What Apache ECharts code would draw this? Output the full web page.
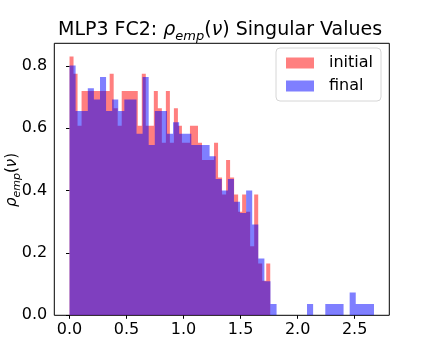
<!DOCTYPE html>
<html lang="en">
<head>
  <meta charset="UTF-8" />
  <title>MLP3 FC2 singular values</title>
  <script src="https://cdn.jsdelivr.net/npm/echarts@6.0.0/dist/echarts.min.js"></script>
  <style>
    html, body { margin: 0; padding: 0; background: #fff; }
    #chart { width: 432px; height: 360px; }
  </style>
</head>
<body>
  <div id="chart"></div>
  <script>
    // histogram bins (density)
    const initialStart = 0.0;
    const initialBinWidth = 0.0352;
    const initialHeights = [
      0.830, 0.774, 0.608, 0.719, 0.719, 0.719, 0.719, 0.719, 0.719, 0.719,
      0.774, 0.664, 0.608, 0.719, 0.719, 0.719, 0.719, 0.608, 0.774, 0.608,
      0.608, 0.719, 0.664, 0.553, 0.719, 0.553, 0.664, 0.608, 0.553, 0.553,
      0.608, 0.608, 0.553, 0.498, 0.498, 0.498, 0.553, 0.442, 0.387, 0.498,
      0.442, 0.387, 0.332, 0.387, 0.332, 0.221, 0.387, 0.166, 0.111, 0.166
    ];

    const finalStart = 0.0;
    const finalBinWidth = 0.0534;
    const finalHeights = [
      0.801, 0.655, 0.655, 0.728, 0.692, 0.764, 0.655, 0.692, 0.655, 0.692,
      0.692, 0.582, 0.764, 0.546, 0.655, 0.655, 0.582, 0.619, 0.582, 0.582,
      0.546, 0.546, 0.546, 0.510, 0.437, 0.400, 0.437, 0.364, 0.328, 0.400,
      0.291, 0.182, 0.109, 0.036, 0, 0, 0, 0, 0, 0.036,
      0, 0, 0.036, 0.036, 0.036, 0, 0.073, 0.036, 0.036, 0.036
    ];

    const seriesNames = ['initial', 'final'];
    const xTickValues = [0, 0.5, 1.0, 1.5, 2.0, 2.5];
    const yTickValues = [0, 0.2, 0.4, 0.6, 0.8];

    // step outline of a histogram: one point per bin edge
    function stepPoints(start, width, heights) {
      var pts = [];
      for (var i = 0; i < heights.length; i++) {
        pts.push([start + i * width, heights[i]]);
      }
      pts.push([start + heights.length * width, heights[heights.length - 1]]);
      return pts;
    }

    var font = 'DejaVu Sans';
    var mathRich = function (size) {
      return {
        n: { fontFamily: font, fontSize: size, fontWeight: 'normal', lineHeight: size + 6, verticalAlign: 'middle', fill: '#000', color: '#000' },
        i: { fontFamily: font, fontSize: size, fontWeight: 'normal', fontStyle: 'italic', lineHeight: size + 6, verticalAlign: 'middle', fill: '#000', color: '#000' },
        s: { fontFamily: font, fontSize: Math.round(size * 0.7), fontWeight: 'normal', fontStyle: 'italic', lineHeight: Math.round(size * 0.7), verticalAlign: 'bottom', fill: '#000', color: '#000' }
      };
    };

    function histSeries(name, start, width, heights, color) {
      return {
        name: name,
        type: 'line',
        step: 'end',
        data: stepPoints(start, width, heights),
        showSymbol: false,
        symbol: 'none',
        lineStyle: { width: 0 },
        itemStyle: { color: color },
        areaStyle: { color: color, opacity: 1 },
        animation: false,
        silent: true
      };
    }

    var chart = echarts.init(document.getElementById('chart'), null, { renderer: 'canvas' });
    chart.setOption({
      backgroundColor: '#fff',
      animation: false,
      title: {
        text: '{n|MLP3 FC2: }{i|ρ}{s|emp}{n|(}{i|ν}{n|) Singular Values}',
        left: 58,
        top: 18,
        padding: 0,
        textStyle: { fontWeight: 'normal', rich: mathRich(19) }
      },
      graphic: [{
        type: 'text',
        x: 12,
        y: 180,
        rotation: Math.PI / 2,
        style: {
          text: '{i|ρ}{s|emp}{n|(}{i|ν}{n|)}',
          rich: mathRich(15),
          align: 'center',
          verticalAlign: 'middle'
        }
      }],
      legend: {
        data: seriesNames,
        orient: 'vertical',
        left: 276,
        top: 48,
        padding: [7, 8, 7, 10],
        itemWidth: 28,
        itemHeight: 11,
        itemGap: 7,
        icon: 'rect',
        backgroundColor: 'rgba(255,255,255,0.8)',
        borderColor: '#d6d6d6',
        borderWidth: 1,
        borderRadius: 4,
        selectedMode: false,
        textStyle: { fontFamily: font, fontSize: 16, color: '#000', lineHeight: 16, padding: [0, 0, 0, 10] }
      },
      grid: {
        left: 54.3, top: 43.3, right: 42.7, bottom: 44.7,
        show: true, borderColor: '#000', borderWidth: 1, backgroundColor: 'transparent',
        outerBoundsMode: 'none'
      },
      xAxis: {
        type: 'value',
        min: -0.1335,
        max: 2.804,
        axisLine: { show: false },
        splitLine: { show: false },
        axisTick: { show: true, length: 3.5, lineStyle: { color: '#000' }, customValues: xTickValues },
        axisLabel: {
          customValues: xTickValues,
          margin: 7,
          fontFamily: font, fontSize: 16, color: '#000',
          formatter: function (v) { return v.toFixed(1); }
        }
      },
      yAxis: {
        type: 'value',
        min: 0,
        max: 0.872,
        axisLine: { show: false },
        splitLine: { show: false },
        axisTick: { show: true, length: 3.5, lineStyle: { color: '#000' }, customValues: yTickValues },
        axisLabel: {
          customValues: yTickValues,
          margin: 7,
          fontFamily: font, fontSize: 16, color: '#000',
          formatter: function (v) { return v.toFixed(1); }
        }
      },
      series: [
        histSeries(seriesNames[0], initialStart, initialBinWidth, initialHeights, 'rgba(255,0,0,0.5)'),
        histSeries(seriesNames[1], finalStart, finalBinWidth, finalHeights, 'rgba(0,0,255,0.5)')
      ]
    });
  </script>
</body>
</html>
